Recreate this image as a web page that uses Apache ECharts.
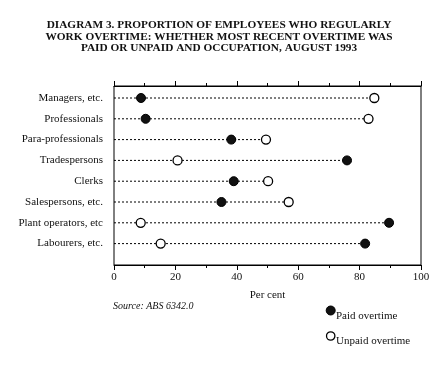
<!DOCTYPE html>
<html><head><meta charset="utf-8">
<script src="https://cdn.jsdelivr.net/npm/echarts@6/dist/echarts.min.js"></script>
<style>html,body{margin:0;padding:0;background:#fff}#c{width:438px;height:383px}</style>
</head><body><div id="c"></div>
<script>
var categories = ['Managers, etc.','Professionals','Para-professionals','Tradespersons','Clerks','Salespersons, etc.','Plant operators, etc','Labourers, etc.'];
var paidOvertime = [8.8, 10.3, 38.2, 75.9, 39.0, 35.0, 89.6, 81.8];
var unpaidOvertime = [84.8, 82.9, 49.5, 20.7, 50.2, 56.9, 8.7, 15.2];
var xTicks = [0, 20, 40, 60, 80, 100];
var legendNames = ['Paid overtime', 'Unpaid overtime'];

var font = '"Liberation Serif", "DejaVu Serif", serif';
var chart = echarts.init(document.getElementById('c'), null, {renderer: 'canvas'});
var lineData = categories.map(function (c, i) { return [Math.max(paidOvertime[i], unpaidOvertime[i]), c]; });
chart.setOption({
  animation: false,
  backgroundColor: '#fff',
  title: {
    text: 'DIAGRAM 3. PROPORTION OF EMPLOYEES WHO REGULARLY\nWORK OVERTIME: WHETHER MOST RECENT OVERTIME WAS\nPAID OR UNPAID AND OCCUPATION, AUGUST 1993',
    left: 'center', top: 14,
    textStyle: {fontFamily: font, fontSize: 11.3, fontWeight: 'bold', color: '#111', lineHeight: 11.8}
  },
  grid: [
    {left: 114, top: 86, width: 307, height: 179, show: true, borderColor: '#000', borderWidth: 1, containLabel: false},
    {left: 114, top: 87.6, width: 307, height: 166.4, containLabel: false}
  ],
  xAxis: [
    {gridIndex: 0, type: 'value', position: 'bottom', min: xTicks[0], max: xTicks[xTicks.length - 1], interval: 20,
     axisLine: {show: true, lineStyle: {color: '#000', width: 1}},
     axisTick: {show: true, length: 5, lineStyle: {color: '#000'}},
     minorTick: {show: true, splitNumber: 2, length: 3, lineStyle: {color: '#000'}},
     splitLine: {show: false},
     axisLabel: {fontFamily: font, fontSize: 11, color: '#111', margin: 7},
     name: 'Per cent', nameLocation: 'middle', nameGap: 25,
     nameTextStyle: {fontFamily: font, fontSize: 11, color: '#111'}},
    {gridIndex: 0, type: 'value', position: 'top', min: xTicks[0], max: xTicks[xTicks.length - 1], interval: 20,
     axisLine: {show: true, lineStyle: {color: '#000', width: 1}},
     axisTick: {show: true, length: 5, lineStyle: {color: '#000'}},
     minorTick: {show: true, splitNumber: 2, length: 3, lineStyle: {color: '#000'}},
     splitLine: {show: false}, axisLabel: {show: false}},
    {gridIndex: 1, type: 'value', min: 0, max: 100, show: false}
  ],
  yAxis: [
    {gridIndex: 0, type: 'value', show: false},
    {gridIndex: 1, type: 'category', data: categories, inverse: true,
     axisLine: {show: false}, axisTick: {show: false}, splitLine: {show: false},
     axisLabel: {fontFamily: font, fontSize: 11, color: '#111', margin: 11}}
  ],
  graphic: [
    {type: 'text', left: 113, top: 301,
     style: {text: 'Source: ABS 6342.0', fontFamily: font, fontSize: 10, fontStyle: 'italic', fill: '#111'}},
    {type: 'circle', shape: {cx: 330.7, cy: 310.5, r: 4.5}, style: {fill: '#111', stroke: '#000', lineWidth: 1}},
    {type: 'text', x: 336, y: 316, style: {text: legendNames[0], fontFamily: font, fontSize: 11, fill: '#111', verticalAlign: 'middle'}},
    {type: 'circle', shape: {cx: 330.7, cy: 336, r: 4.2}, style: {fill: '#fff', stroke: '#000', lineWidth: 1.3}},
    {type: 'text', x: 336, y: 341, style: {text: legendNames[1], fontFamily: font, fontSize: 11, fill: '#111', verticalAlign: 'middle'}}
  ],
  series: [
    {type: 'custom', xAxisIndex: 2, yAxisIndex: 1, silent: true, z: 1,
     data: lineData,
     renderItem: function (params, api) {
       var end = api.coord([api.value(0), api.value(1)]);
       var start = api.coord([0, api.value(1)]);
       return {type: 'line', shape: {x1: start[0], y1: start[1], x2: end[0], y2: end[1]},
               style: {stroke: '#000', lineWidth: 1, lineDash: [2, 2]}};
     }},
    {name: legendNames[0], type: 'scatter', xAxisIndex: 2, yAxisIndex: 1, z: 3,
     symbol: 'circle', symbolSize: 9,
     itemStyle: {color: '#111', borderColor: '#000', borderWidth: 1, opacity: 1},
     data: categories.map(function (c, i) { return [paidOvertime[i], c]; })},
    {name: legendNames[1], type: 'scatter', xAxisIndex: 2, yAxisIndex: 1, z: 3,
     symbol: 'circle', symbolSize: 9,
     itemStyle: {color: '#fff', borderColor: '#000', borderWidth: 1.3, opacity: 1},
     data: categories.map(function (c, i) { return [unpaidOvertime[i], c]; })}
  ]
});
</script></body></html>
